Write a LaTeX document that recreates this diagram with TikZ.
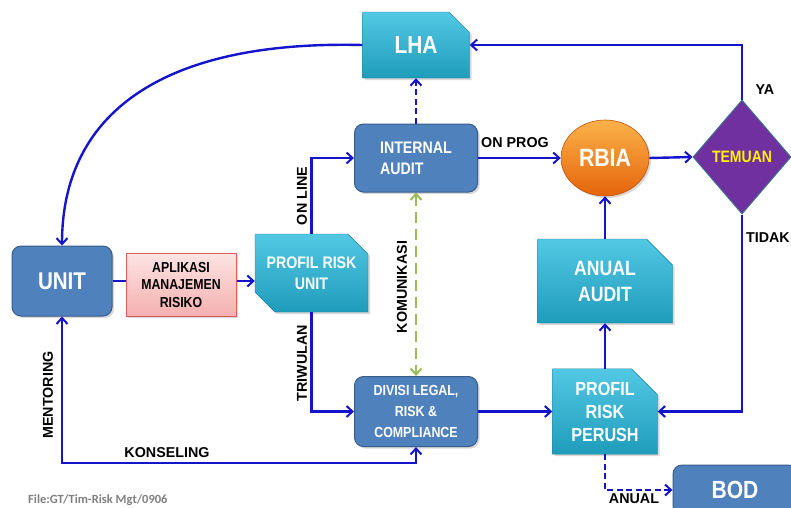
\documentclass[tikz,border=0pt]{standalone}
\usepackage{fontspec}
\setmainfont{Liberation Sans}
\newfontfamily\nar[FakeStretch=0.85]{Liberation Sans}
\newfontfamily\calib{Carlito}
\usetikzlibrary{shapes.misc,shapes.geometric,arrows.meta,shadows}
\definecolor{lineblue}{HTML}{1414CC}
\definecolor{cyantop}{HTML}{52C8E4}
\definecolor{cyanbot}{HTML}{1F9CBB}
\definecolor{boxblue}{HTML}{4F81BD}
\definecolor{boxborder}{HTML}{385D8A}
\definecolor{pinktop}{HTML}{FDE4E4}
\definecolor{pinkbot}{HTML}{F5B0B0}
\definecolor{pinkborder}{HTML}{D9605C}
\definecolor{orangetop}{HTML}{FBB24A}
\definecolor{orangebot}{HTML}{E5640C}
\definecolor{purp}{HTML}{7030A0}
\definecolor{diamborder}{HTML}{3E6E8E}
\definecolor{commgreen}{HTML}{9BBB59}
\definecolor{foot}{HTML}{808080}
\tikzset{
  shad/.style={drop shadow={shadow xshift=2pt,shadow yshift=-2pt,opacity=0.3}},
  cyanbox/.style={chamfered rectangle, chamfered rectangle corners=north east,
     chamfered rectangle xsep=12pt, chamfered rectangle ysep=12pt,
     top color=cyantop, bottom color=cyanbot, draw=cyanbot!80!black, line width=0.4pt,
     inner sep=0pt, text=white, font=\nar\bfseries, align=center, shad},
  bluebox/.style={rectangle, rounded corners=9pt, fill=boxblue, draw=boxborder, line width=1pt,
     inner sep=0pt, text=white, font=\nar\bfseries, align=center, shad},
  arr/.style={draw=lineblue, line width=2.4pt, -{Straight Barb[length=6pt,width=11pt,line width=2pt]}},
  biarr/.style={draw=lineblue, line width=2.4pt, {Straight Barb[length=6pt,width=11pt,line width=2pt]}-{Straight Barb[length=6pt,width=11pt,line width=2pt]}},
  plain/.style={draw=lineblue, line width=2.4pt},
  dasharr/.style={arr, dash pattern=on 6pt off 3.5pt},
  comm/.style={draw=commgreen, line width=2.4pt, dash pattern=on 11pt off 6pt,
     {Straight Barb[length=6pt,width=11pt,line width=2pt]}-{Straight Barb[length=6pt,width=11pt,line width=2pt]}},
  lbl/.style={font=\bfseries\fontsize{14.3}{16}\selectfont, text=black, inner sep=0pt}
}
\begin{document}
\begin{tikzpicture}[x=1pt,y=-1pt]
\useasboundingbox (0,0) rectangle (791,507);
\fill[white] (0,0) rectangle (791,507);

% nodes
\node[cyanbox, minimum width=107pt, minimum height=66pt, font=\nar\bfseries\fontsize{24.6}{28}\selectfont] (LHA) at (416,45) {LHA};
\node[bluebox, minimum width=100pt, minimum height=70pt, font=\nar\bfseries\fontsize{24.2}{28}\selectfont] (UNIT) at (62,281) {UNIT};
\node[rectangle, minimum width=110pt, minimum height=63pt, inner sep=0pt, top color=pinktop, bottom color=pinkbot,
  draw=pinkborder, line width=1pt, align=center, font=\nar\bfseries\fontsize{14.5}{17.5}\selectfont, text=black, shad] (APL) at (181,284.5) {APLIKASI\\MANAJEMEN\\RISIKO};
\node[cyanbox, chamfered rectangle corners={north east,south west}, chamfered rectangle xsep=10pt, chamfered rectangle ysep=10pt,
  minimum width=113pt, minimum height=78pt, font=\nar\bfseries\fontsize{16.7}{20.5}\selectfont] (PRU) at (311.5,273) {PROFIL RISK\\UNIT};
\node[bluebox, minimum width=123pt, minimum height=68pt, align=left, font=\nar\bfseries\fontsize{16.7}{21}\selectfont] (IA) at (416,158) {INTERNAL\\AUDIT};
\node[ellipse, minimum width=88pt, minimum height=76pt, inner sep=0pt, top color=orangetop, bottom color=orangebot,
  draw=orangebot!85!black, line width=0.6pt, text=white, font=\nar\bfseries\fontsize{25}{28}\selectfont, shad] (RBIA) at (605,158) {RBIA};
\node[diamond, minimum width=98pt, minimum height=114pt, inner sep=0pt, fill=purp, draw=diamborder, line width=1pt,
  text=yellow, font=\nar\bfseries\fontsize{16.5}{18}\selectfont] (TEM) at (742,157) {TEMUAN};
\node[cyanbox, chamfered rectangle xsep=13pt, chamfered rectangle ysep=13pt, minimum width=135pt, minimum height=84pt,
  font=\nar\bfseries\fontsize{20.7}{26}\selectfont] (AA) at (605,281) {ANUAL\\AUDIT};
\node[bluebox, minimum width=123pt, minimum height=70pt, font=\nar\bfseries\fontsize{14.6}{21}\selectfont] (DIV) at (416,411.5) {DIVISI LEGAL,\\RISK \&\\COMPLIANCE};
\node[cyanbox, chamfered rectangle xsep=13pt, chamfered rectangle ysep=13pt, minimum width=105pt, minimum height=80pt,
  font=\nar\bfseries\fontsize{19}{23}\selectfont] (PRP) at (605,411.5) {PROFIL\\RISK\\PERUSH};
\node[bluebox, minimum width=124pt, minimum height=50pt, font=\nar\bfseries\fontsize{24.8}{28}\selectfont] (BOD) at (735,490) {BOD};

% connectors
\draw[arr] (LHA.west) .. controls (160,40) and (62,115) .. (UNIT.north);
\draw[plain] (UNIT.east |- 0,281) -- (APL.west |- 0,281);
\draw[arr] (APL.east |- 0,281) -- (PRU.west |- 0,281);
\draw[arr] (PRU.north) |- (IA.west);
\draw[arr] (PRU.south) |- (DIV.west);
\draw[dasharr] (IA.north) -- (LHA.south);
\draw[arr] (IA.east) -- (RBIA.west);
\draw[arr] (RBIA.east) -- (TEM.west);
\draw[arr] (TEM.north) |- (LHA.east);
\draw[arr] (TEM.south) |- (PRP.east);
\draw[arr] (DIV.east) -- (PRP.west);
\draw[arr] (PRP.north) -- (AA.south);
\draw[arr] (AA.north) -- (RBIA.south);
\draw[dasharr] (PRP.south) |- (BOD.west);
\draw[comm] (IA.south) -- (DIV.north);
\coordinate (kbl) at (62,463);
\coordinate (kbr) at (416,463);
\draw[biarr] (UNIT.south) -- (kbl) -- (kbr) -- (DIV.south);

% labels
\node[lbl, rotate=90] (lonline) at (302,196) {ON LINE};
\node[lbl, rotate=90] (ltriw) at (302,363) {TRIWULAN};
\node[lbl, rotate=90] (lkom) at (402,287) {KOMUNIKASI};
\node[lbl, rotate=90] (lment) at (48,395) {MENTORING};
\node[lbl] (lkons) at (167,453) {KONSELING};
\node[lbl] (lprog) at (515,143) {ON PROG};
\node[lbl] (lya) at (765,90) {YA};
\node[lbl, anchor=east] (ltidak) at (790,238) {TIDAK};
\node[lbl] (lanual) at (634,498.5) {ANUAL};
\node[anchor=west, inner sep=0pt, text=foot, font=\calib\bfseries\fontsize{12.5}{14}\selectfont] (footer) at (28,500) {File:GT/Tim-Risk Mgt/0906};
\end{tikzpicture}
\end{document}
